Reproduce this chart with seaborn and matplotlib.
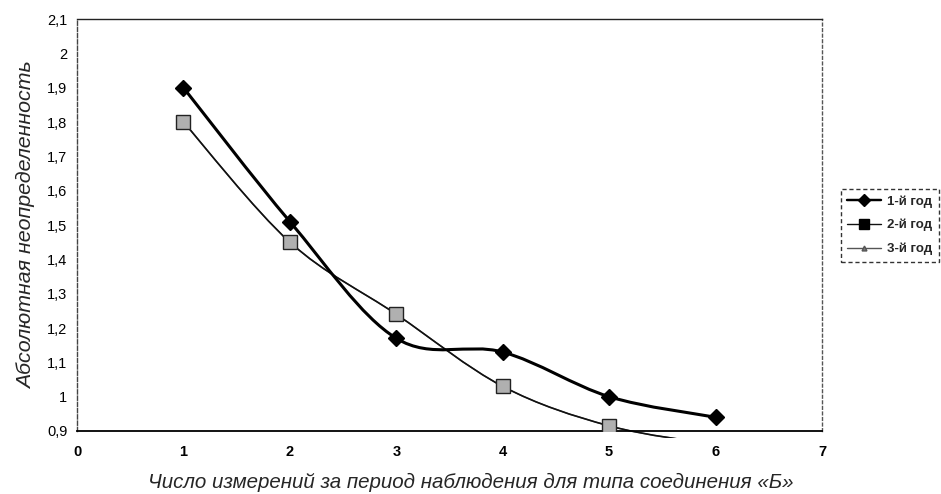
import numpy as np
import pandas as pd
import matplotlib
matplotlib.use("Agg")
import matplotlib.pyplot as plt
import seaborn as sns
from matplotlib.path import Path
from matplotlib.patches import PathPatch, Rectangle
from matplotlib.lines import Line2D

# ---- data ----
x_vals = [1, 2, 3, 4, 5, 6]
year1 = [1.90, 1.51, 1.17, 1.13, 1.00, 0.94]
year2 = [1.80, 1.45, 1.24, 1.03, 0.915, 0.86]
year3 = [1.80, 1.45, 1.24, 1.03, 0.915, 0.86]
series_names = ["1-й год", "2-й год", "3-й год"]
x_ticks = [0, 1, 2, 3, 4, 5, 6, 7]
y_ticks = [0.9, 1.0, 1.1, 1.2, 1.3, 1.4, 1.5, 1.6, 1.7, 1.8, 1.9, 2.0, 2.1]
y_tick_labels = ["0,9", "1", "1,1", "1,2", "1,3", "1,4", "1,5", "1,6", "1,7",
                 "1,8", "1,9", "2", "2,1"]
x_label = "Число измерений за период наблюдения для типа соединения «Б»"
y_label = "Абсолютная неопределенность"

sns.set_style("white")
plt.rcParams["font.family"] = ["Liberation Sans", "DejaVu Sans"]

fig = plt.figure(figsize=(9.41, 4.94), dpi=100)
ax = fig.add_axes([77 / 941, 1 - 431 / 494, 745 / 941, 412 / 494])

df = pd.DataFrame({"x": x_vals * 3,
                   "y": year1 + year2 + year3,
                   "series": [series_names[0]] * 6 + [series_names[1]] * 6 + [series_names[2]] * 6})

styles = {
    series_names[0]: dict(color="black", lw=2.2, marker="D", ms=8.5, mfc="black", mec="black"),
    series_names[1]: dict(color="#111111", lw=1.2, marker="s", ms=10, mfc="#b0b0b0", mec="#222222"),
    series_names[2]: dict(color="#555555", lw=1.0, marker="^", ms=5, mfc="#888888", mec="#666666"),
}


def smooth_path(xs, ys):
    pts = np.column_stack([xs, ys]).astype(float)
    n = len(pts)
    verts = [pts[0]]
    codes = [Path.MOVETO]
    for i in range(n - 1):
        p0 = pts[i - 1] if i > 0 else pts[i]
        p1 = pts[i]
        p2 = pts[i + 1]
        p3 = pts[i + 2] if i + 2 < n else pts[i + 1]
        c1 = p1 + (p2 - p0) / 6.0
        c2 = p2 - (p3 - p1) / 6.0
        verts += [c1, c2, p2]
        codes += [Path.CURVE4] * 3
    return Path(verts, codes)


clip_rect = Rectangle((0, -0.016), 1, 1.032, transform=ax.transAxes, facecolor="none")
ax.add_patch(clip_rect)
clip_rect.set_visible(False)

for name in [series_names[2], series_names[1], series_names[0]]:
    sub = df[df["series"] == name]
    st = styles[name]
    patch = PathPatch(smooth_path(sub["x"].values, sub["y"].values), fill=False,
                      edgecolor=st["color"], lw=st["lw"], transform=ax.transData, zorder=2)
    ax.add_patch(patch)
    patch.set_clip_path(clip_rect)
    vis = sub[sub["y"] >= 0.9]
    sns.lineplot(data=vis, x="x", y="y", ax=ax, linestyle="", marker=st["marker"],
                 markersize=st["ms"], markerfacecolor=st["mfc"], markeredgecolor=st["mec"],
                 markeredgewidth=1.0, color=st["color"], legend=False, zorder=3)

ax.set_xlim(0, 7)
ax.set_ylim(0.9, 2.1)
ax.set_xticks(x_ticks)
ax.set_xticklabels([str(t) for t in x_ticks], fontsize=10.5, fontweight="bold")
ax.set_yticks(y_ticks)
ax.set_yticklabels(y_tick_labels, fontsize=10.5)
ax.tick_params(axis="x", direction="out", length=4, width=1, pad=6, colors="black")
ax.tick_params(axis="y", direction="out", length=3, width=1, pad=4, colors="black")
ax.set_xlabel(x_label, fontsize=14.8, style="italic")
ax.xaxis.set_label_coords(394 / 745, -0.102)
ax.set_ylabel(y_label, fontsize=15.4, style="italic", labelpad=8)

for side in ["left", "right", "top", "bottom"]:
    ax.spines[side].set_visible(True)
ax.spines["bottom"].set_color("black")
ax.spines["bottom"].set_linewidth(1.3)
ax.spines["top"].set_color("#222222")
ax.spines["top"].set_linewidth(1.0)
ax.spines["left"].set_color("#444444")
ax.spines["left"].set_linestyle((0, (3, 1.5)))
ax.spines["left"].set_linewidth(1.0)
ax.spines["right"].set_color("#555555")
ax.spines["right"].set_linestyle((0, (2, 2)))
ax.spines["right"].set_linewidth(1.0)
ax.grid(False)

handles = []
for name in series_names:
    st = styles[name]
    handles.append(Line2D([0], [0], color=st["color"], lw=max(st["lw"] * 0.8, 1.0), marker=st["marker"],
                          markersize=st["ms"] * 0.7, markerfacecolor="black" if name != series_names[2] else "#777777",
                          markeredgecolor="black" if name != series_names[2] else "#555555"))
leg = fig.legend(handles, series_names, loc="upper left", bbox_to_anchor=(834 / 941, 1 - 182 / 494),
                 frameon=True, fancybox=False, prop={"size": 9.5, "weight": "bold"},
                 handlelength=2.6, handletextpad=0.4, labelspacing=0.85, borderpad=0.5)
leg.get_frame().set_edgecolor("black")
leg.get_frame().set_linestyle((0, (3, 2)))
leg.get_frame().set_linewidth(1.0)

fig.savefig("out.png", dpi=100, facecolor="white")
